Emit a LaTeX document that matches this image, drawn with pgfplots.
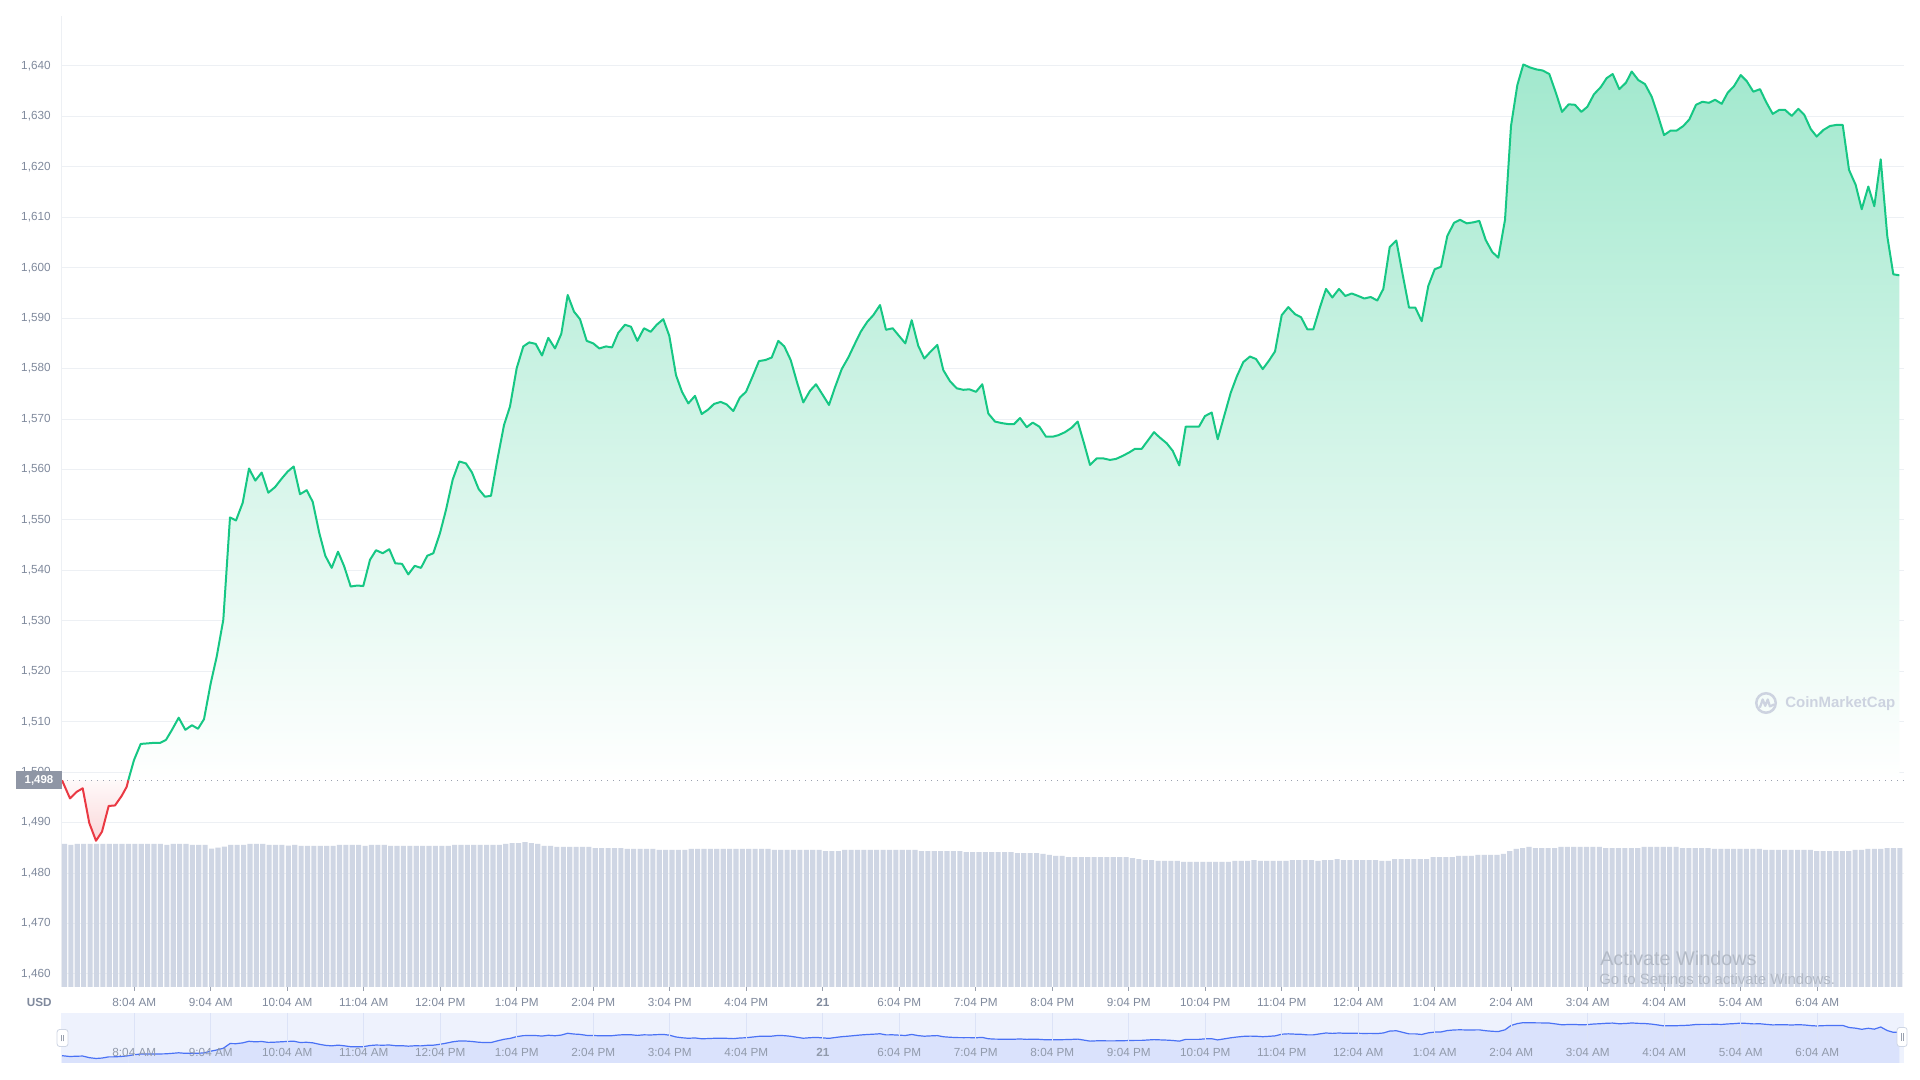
\documentclass[border=0pt]{standalone}
\usepackage{fontspec}
\setmainfont{Liberation Sans}
\usepackage{pgfplots}
\usepackage{pgfplotstable}
\pgfplotsset{compat=1.18}
\definecolor{cmcgreen}{HTML}{16C784}
\definecolor{cmcred}{HTML}{EA3943}
\definecolor{labgray}{HTML}{808A9D}
\definecolor{gridc}{HTML}{EDF0F4}
\definecolor{barc}{HTML}{CFD6E4}
\definecolor{navbg}{HTML}{EEF2FD}
\definecolor{navfill}{HTML}{DAE2FC}
\definecolor{navline}{HTML}{4A72F5}
\definecolor{navgrid}{HTML}{DCE3F7}
\definecolor{boxgray}{HTML}{8F96A5}
\definecolor{wmgray}{HTML}{CDD3E0}
\definecolor{wingray}{HTML}{B3BAC6}
\definecolor{tickc}{HTML}{9AA1AF}

% price, x in screen position units, y in USD
\pgfplotstableread{
x y
62 1498.4
70 1494.8
76.7 1496.1
82.7 1496.8
89.3 1489.9
96 1486.4
102 1488.2
108.7 1493.3
115 1493.4
121.7 1495.3
126.7 1497.1
128.3 1498.4
}\reddata

\pgfplotstableread{
x y
128.3 1498.4
134 1502.4
140.7 1505.6
147.3 1505.7
153.3 1505.8
160 1505.8
166 1506.4
172 1508.4
178.7 1510.8
185.3 1508.4
192 1509.3
198 1508.6
204 1510.5
210.7 1517.6
216.7 1522.9
223.3 1530.2
230 1550.5
236 1549.9
242.7 1553.4
249 1560.2
255.3 1557.8
261.7 1559.4
268.3 1555.4
275 1556.5
281.7 1558.2
287.7 1559.6
293.7 1560.6
300 1555.1
306.7 1555.9
312.7 1553.6
319.3 1547.4
325.3 1542.9
331.7 1540.5
338 1543.7
344 1540.9
350.7 1536.8
357.3 1537.0
363.3 1536.9
370 1542.1
376 1544.0
382.7 1543.4
389.3 1544.2
395.3 1541.4
402 1541.3
408.3 1539.2
414.7 1540.9
421 1540.5
427.3 1542.9
433.3 1543.4
440 1547.4
446 1552.0
452.7 1558.0
459.3 1561.6
466 1561.2
472 1559.4
478.7 1556.1
485 1554.6
491 1554.8
497.3 1561.9
504 1568.8
510 1572.5
516.7 1580.1
523.3 1584.4
529.3 1585.2
535.7 1584.9
542 1582.6
548.3 1586.1
555 1584.0
561.3 1586.9
567.7 1594.6
574 1591.3
580 1589.8
586.7 1585.5
593.3 1585.0
599.3 1584.0
606 1584.4
612 1584.2
618.3 1587.1
625 1588.7
631 1588.3
637.3 1585.5
644 1588.0
650.7 1587.3
656.7 1588.7
663.3 1589.8
669.3 1586.5
676 1578.7
682 1575.4
688.3 1573.1
695 1574.6
701.7 1571.0
708.3 1571.9
714 1573.0
720.7 1573.4
726.7 1572.9
733.3 1571.6
740 1574.3
746 1575.4
752.7 1578.5
759 1581.5
765.3 1581.7
771.7 1582.2
778.3 1585.5
784.3 1584.4
790.7 1581.7
797.3 1577.1
803.3 1573.3
810 1575.6
816 1576.9
822.7 1574.8
829 1572.8
835 1576.3
841.7 1579.9
848.3 1582.2
854.3 1584.7
860.7 1587.3
867.3 1589.3
873.3 1590.6
880 1592.6
886 1587.7
892.7 1588.0
899 1586.5
905.3 1585.0
911.7 1589.6
918.3 1584.5
924.3 1582.0
930.7 1583.4
937.3 1584.7
943.3 1579.7
950 1577.5
956.7 1576.1
963.3 1575.8
969.3 1575.9
976 1575.4
982.3 1576.9
988.3 1571.1
995 1569.5
1001.7 1569.2
1008.3 1569.0
1014 1569.0
1020 1570.2
1026.7 1568.4
1032.7 1569.3
1039.3 1568.5
1046 1566.5
1052.7 1566.5
1058.3 1566.8
1065 1567.4
1071.7 1568.3
1077.7 1569.5
1084 1565.2
1090 1560.9
1096.7 1562.2
1103.3 1562.2
1110 1561.9
1116 1562.1
1122.7 1562.7
1129.3 1563.4
1135 1564.1
1141.7 1564.1
1147.7 1565.7
1154 1567.4
1160 1566.3
1166.7 1565.2
1172.7 1563.7
1179.3 1560.8
1185.7 1568.5
1192.3 1568.5
1199 1568.5
1205 1570.6
1211.7 1571.3
1217.7 1566.0
1224 1570.5
1230.7 1575.2
1236.7 1578.4
1243.3 1581.3
1250 1582.4
1256 1581.9
1262.7 1579.9
1269 1581.6
1275 1583.4
1281.7 1590.6
1288.3 1592.2
1295 1590.8
1301 1590.2
1307.3 1587.8
1313.3 1587.8
1320 1592.2
1326 1595.8
1332.3 1594.1
1339 1595.8
1345.3 1594.4
1351.7 1594.9
1358.3 1594.4
1364.3 1593.9
1370.7 1594.2
1377.3 1593.5
1383.3 1595.8
1389.7 1604.1
1396.3 1605.4
1402.7 1598.6
1409 1592.1
1415.3 1592.1
1421.7 1589.4
1428.3 1596.4
1434.7 1599.7
1441 1600.2
1447.3 1606.3
1454 1608.9
1460 1609.5
1466.7 1608.8
1473.3 1609.0
1479.3 1609.3
1485.7 1605.5
1492.3 1603.1
1498.3 1602.0
1505 1609.5
1511 1628.1
1517.3 1636.2
1523.3 1640.3
1530 1639.7
1536.7 1639.3
1542.7 1639.1
1549.3 1638.4
1556 1634.6
1562 1630.9
1568.7 1632.4
1575 1632.3
1581.3 1630.9
1587.3 1631.9
1594 1634.4
1600.7 1635.8
1606.7 1637.6
1612.7 1638.4
1619.3 1635.4
1626 1636.7
1631.7 1638.9
1638.3 1637.2
1645 1636.4
1651.7 1633.9
1657.3 1630.6
1664 1626.3
1670.7 1627.2
1676.7 1627.2
1683.3 1628.1
1689.3 1629.4
1696 1632.3
1702.3 1632.9
1709 1632.7
1715 1633.3
1721.7 1632.5
1727.7 1634.7
1734 1636.0
1740.7 1638.2
1746.7 1637.0
1753.3 1634.9
1760 1635.4
1766 1632.9
1772.7 1630.5
1779.3 1631.3
1785 1631.3
1791.7 1630.1
1798.3 1631.5
1804.3 1630.3
1810.7 1627.5
1816.7 1626.0
1823.3 1627.3
1830 1628.1
1836 1628.3
1842.7 1628.3
1849 1619.4
1855.7 1616.4
1861.7 1611.6
1868.3 1616.1
1874.3 1612.2
1880.7 1621.5
1887.3 1606.2
1893.3 1598.7
1899.3 1598.5
}\greendata

\pgfplotsset{
  cmcticks/.style={
    xtick={134.3,210.8,287.3,363.8,440.3,516.8,593.3,669.8,746.3,822.8,899.3,975.8,1052.3,1128.8,1205.3,1281.8,1358.3,1434.8,1511.3,1587.8,1664.3,1740.8,1817.3},
    xticklabels={8:04 AM,9:04 AM,10:04 AM,11:04 AM,12:04 PM,1:04 PM,2:04 PM,3:04 PM,4:04 PM,\textbf{21},6:04 PM,7:04 PM,8:04 PM,9:04 PM,10:04 PM,11:04 PM,12:04 AM,1:04 AM,2:04 AM,3:04 AM,4:04 AM,5:04 AM,6:04 AM},
  }
}

\begin{document}
\begin{tikzpicture}[x=1pt,y=1pt]
\useasboundingbox (0,0) rectangle (1440,810);
\fill[white] (0,0) rectangle (1440,810);

% main price axis
\begin{axis}[
  at={(45.975pt,69.75pt)}, anchor=south west,
  scale only axis, width=1382.025pt, height=728.25pt,
  xmin=61.3, xmax=1904, ymin=1457.41, ymax=1649.91,
  axis lines*=left,
  x axis line style={draw=none},
  y axis line style={draw=gridc, line width=0.75pt},
  cmcticks,
  ytick={1460,1470,1480,1490,1500,1510,1520,1530,1540,1550,1560,1570,1580,1590,1600,1610,1620,1630,1640},
  ymajorgrids,
  grid style={draw=gridc, line width=0.75pt},
  tick align=outside,
  major tick length=3pt,
  xtick style={draw=tickc, line width=0.75pt},
  ytick style={draw=none},
  tick label style={font=\fontsize{8.8pt}{10pt}\selectfont, text=labgray},
  xticklabel style={yshift=-2.25pt},
  /pgf/number format/1000 sep={,},
  /pgf/number format/assume math mode=true,
  yticklabel style={xshift=-1.5pt},
  clip=true,
]
\addplot[draw=none, top color=cmcgreen!40!white, bottom color=white] table {\greendata}
  -- (axis cs:1899.3,1498.4) -- (axis cs:128.3,1498.4) -- cycle;
\addplot[draw=none, top color=cmcred!3!white, bottom color=cmcred!20!white] table {\reddata}
  -- cycle;
\addplot[draw=tickc, line width=0.75pt, dash pattern=on 0.75pt off 3.75pt] coordinates {(61.3,1498.4) (1904,1498.4)};
\addplot[cmcred, line width=1.5pt, line join=round] table {\reddata};
\addplot[cmcgreen, line width=1.5pt, line join=round] table {\greendata};
\end{axis}

% volume bars (height units above the chart floor)
\begin{axis}[
  at={(45.975pt,69.75pt)}, anchor=south west,
  scale only axis, width=1382.025pt, height=728.25pt,
  xmin=-0.5, xmax=287.64, ymin=0, ymax=192.5,
  hide axis, ybar, bar width=0.8,
]
\addplot[fill=barc, draw=none] coordinates {
(0,28.35)(1,28.15)(2,28.35)(3,28.35)(4,28.35)(5,28.35)(6,28.35)(7,28.35)
(8,28.35)(9,28.35)(10,28.35)(11,28.35)(12,28.35)(13,28.35)(14,28.35)(15,28.35)
(16,28.15)(17,28.35)(18,28.35)(19,28.35)(20,28.15)(21,28.15)(22,28.15)(23,27.42)
(24,27.62)(25,27.82)(26,28.15)(27,28.15)(28,28.15)(29,28.35)(30,28.35)(31,28.35)
(32,28.15)(33,28.15)(34,28.15)(35,28.02)(36,28.15)(37,27.96)(38,27.96)(39,27.96)
(40,27.96)(41,27.96)(42,27.96)(43,28.15)(44,28.15)(45,28.15)(46,28.15)(47,27.96)
(48,28.15)(49,28.15)(50,28.15)(51,27.96)(52,27.96)(53,27.96)(54,27.96)(55,27.96)
(56,27.96)(57,27.96)(58,27.96)(59,27.96)(60,27.96)(61,28.15)(62,28.15)(63,28.15)
(64,28.15)(65,28.15)(66,28.15)(67,28.15)(68,28.15)(69,28.35)(70,28.54)(71,28.54)
(72,28.74)(73,28.54)(74,28.35)(75,27.96)(76,27.96)(77,27.76)(78,27.76)(79,27.76)
(80,27.76)(81,27.76)(82,27.76)(83,27.55)(84,27.55)(85,27.55)(86,27.55)(87,27.55)
(88,27.36)(89,27.36)(90,27.36)(91,27.36)(92,27.36)(93,27.16)(94,27.16)(95,27.16)
(96,27.16)(97,27.16)(98,27.36)(99,27.36)(100,27.36)(101,27.36)(102,27.36)(103,27.36)
(104,27.36)(105,27.36)(106,27.36)(107,27.36)(108,27.36)(109,27.36)(110,27.36)(111,27.16)
(112,27.16)(113,27.16)(114,27.16)(115,27.16)(116,27.16)(117,27.16)(118,27.16)(119,26.96)
(120,26.96)(121,26.96)(122,27.16)(123,27.16)(124,27.16)(125,27.16)(126,27.16)(127,27.16)
(128,27.16)(129,27.16)(130,27.16)(131,27.16)(132,27.16)(133,27.16)(134,26.96)(135,26.96)
(136,26.96)(137,26.96)(138,26.96)(139,26.96)(140,26.96)(141,26.76)(142,26.76)(143,26.76)
(144,26.76)(145,26.76)(146,26.76)(147,26.76)(148,26.76)(149,26.56)(150,26.56)(151,26.56)
(152,26.56)(153,26.37)(154,26.17)(155,25.97)(156,25.97)(157,25.77)(158,25.77)(159,25.77)
(160,25.77)(161,25.77)(162,25.77)(163,25.77)(164,25.77)(165,25.77)(166,25.77)(167,25.57)
(168,25.37)(169,25.17)(170,25.17)(171,24.98)(172,24.98)(173,24.98)(174,24.98)(175,24.78)
(176,24.78)(177,24.78)(178,24.78)(179,24.78)(180,24.78)(181,24.78)(182,24.78)(183,24.98)
(184,24.98)(185,24.98)(186,25.17)(187,24.98)(188,24.98)(189,24.98)(190,24.98)(191,24.98)
(192,25.17)(193,25.17)(194,25.17)(195,25.17)(196,24.98)(197,25.17)(198,25.17)(199,25.37)
(200,25.17)(201,25.17)(202,25.17)(203,25.17)(204,25.17)(205,25.17)(206,24.98)(207,24.98)
(208,25.37)(209,25.37)(210,25.37)(211,25.37)(212,25.37)(213,25.37)(214,25.77)(215,25.77)
(216,25.77)(217,25.77)(218,25.97)(219,25.97)(220,25.97)(221,26.17)(222,26.17)(223,26.17)
(224,26.17)(225,26.37)(226,26.96)(227,27.36)(228,27.55)(229,27.76)(230,27.55)(231,27.55)
(232,27.55)(233,27.55)(234,27.76)(235,27.76)(236,27.76)(237,27.76)(238,27.76)(239,27.76)
(240,27.76)(241,27.55)(242,27.55)(243,27.55)(244,27.55)(245,27.55)(246,27.55)(247,27.76)
(248,27.76)(249,27.76)(250,27.76)(251,27.76)(252,27.76)(253,27.55)(254,27.55)(255,27.55)
(256,27.55)(257,27.55)(258,27.36)(259,27.36)(260,27.36)(261,27.36)(262,27.36)(263,27.36)
(264,27.36)(265,27.36)(266,27.16)(267,27.16)(268,27.16)(269,27.16)(270,27.16)(271,27.16)
(272,27.16)(273,27.16)(274,26.96)(275,26.96)(276,26.96)(277,26.96)(278,26.96)(279,26.96)
(280,27.16)(281,27.16)(282,27.36)(283,27.36)(284,27.36)(285,27.55)(286,27.55)(287,27.55)
};
\end{axis}

% navigator
\begin{axis}[
  at={(45.975pt,12.75pt)}, anchor=south west,
  scale only axis, width=1382.025pt, height=37.5pt,
  xmin=61.3, xmax=1904, ymin=1467, ymax=1681.7,
  axis background/.style={fill=navbg},
  axis line style={draw=none},
  ytick=\empty,
  cmcticks,
  xtick style={draw=none},
  xmajorgrids, grid style={draw=navgrid, line width=0.75pt},
  axis on top,
  tick label style={font=\fontsize{8.8pt}{10pt}\selectfont, text=labgray!85!navbg},
  xticklabel style={anchor=center, yshift=8.25pt},
]
\addplot[fill=navfill, draw=none] table {\reddata}
  -- (axis cs:128.3,1467) -- (axis cs:62,1467) -- cycle;
\addplot[fill=navfill, draw=none] table {\greendata}
  -- (axis cs:1899.3,1467) -- (axis cs:128.3,1467) -- cycle;
\addplot[navline, line width=0.9pt] table {\reddata};
\addplot[navline, line width=0.9pt] table {\greendata};
\end{axis}

% current price box
\fill[boxgray] (12,218.0) rectangle (46.5,231.75);
\node[text=white, font=\fontsize{8.6pt}{10pt}\selectfont\bfseries, inner sep=0pt] at (29.25,224.9) {1,498};
% USD
\node[text=labgray, font=\fontsize{8.8pt}{10pt}\selectfont\bfseries, inner sep=0pt] at (29.4,58.2) {USD};

% navigator handles
\filldraw[fill=white, draw=barc, line width=0.6pt, rounded corners=2pt] (42.8,25.1) rectangle (51.0,37.9);
\draw[tickc, line width=0.5pt] (46.2,29) -- (46.2,34) (47.6,29) -- (47.6,34);
\filldraw[fill=white, draw=barc, line width=0.6pt, rounded corners=2pt] (1422.8,25.1) rectangle (1430.3,39.4);
\draw[tickc, line width=0.5pt] (1425.9,29.5) -- (1425.9,35) (1427.3,29.5) -- (1427.3,35);

% CoinMarketCap watermark
\draw[wmgray, line width=1.9pt] (1324.5,282.75) circle (7.3);
\draw[wmgray, line width=1.7pt, line join=round, line cap=round]
  (1320.0,279.6) -- (1322.0,285.4) -- (1323.9,280.6) -- (1325.8,285.4) -- (1327.4,280.2) -- (1330.5,281.6);
\node[text=wmgray, font=\fontsize{11.25pt}{13pt}\selectfont\bfseries, anchor=west, inner sep=0pt] at (1338.75,282.5) {CoinMarketCap};

% Windows activation overlay
\node[text=wingray, font=\fontsize{14.85pt}{17pt}\selectfont, anchor=west, inner sep=0pt] at (1200,91.5) {Activate Windows};
\node[text=wingray, font=\fontsize{11.2pt}{13pt}\selectfont, anchor=west, inner sep=0pt] at (1199.25,74.25) {Go to Settings to activate Windows.};
\end{tikzpicture}
\end{document}
